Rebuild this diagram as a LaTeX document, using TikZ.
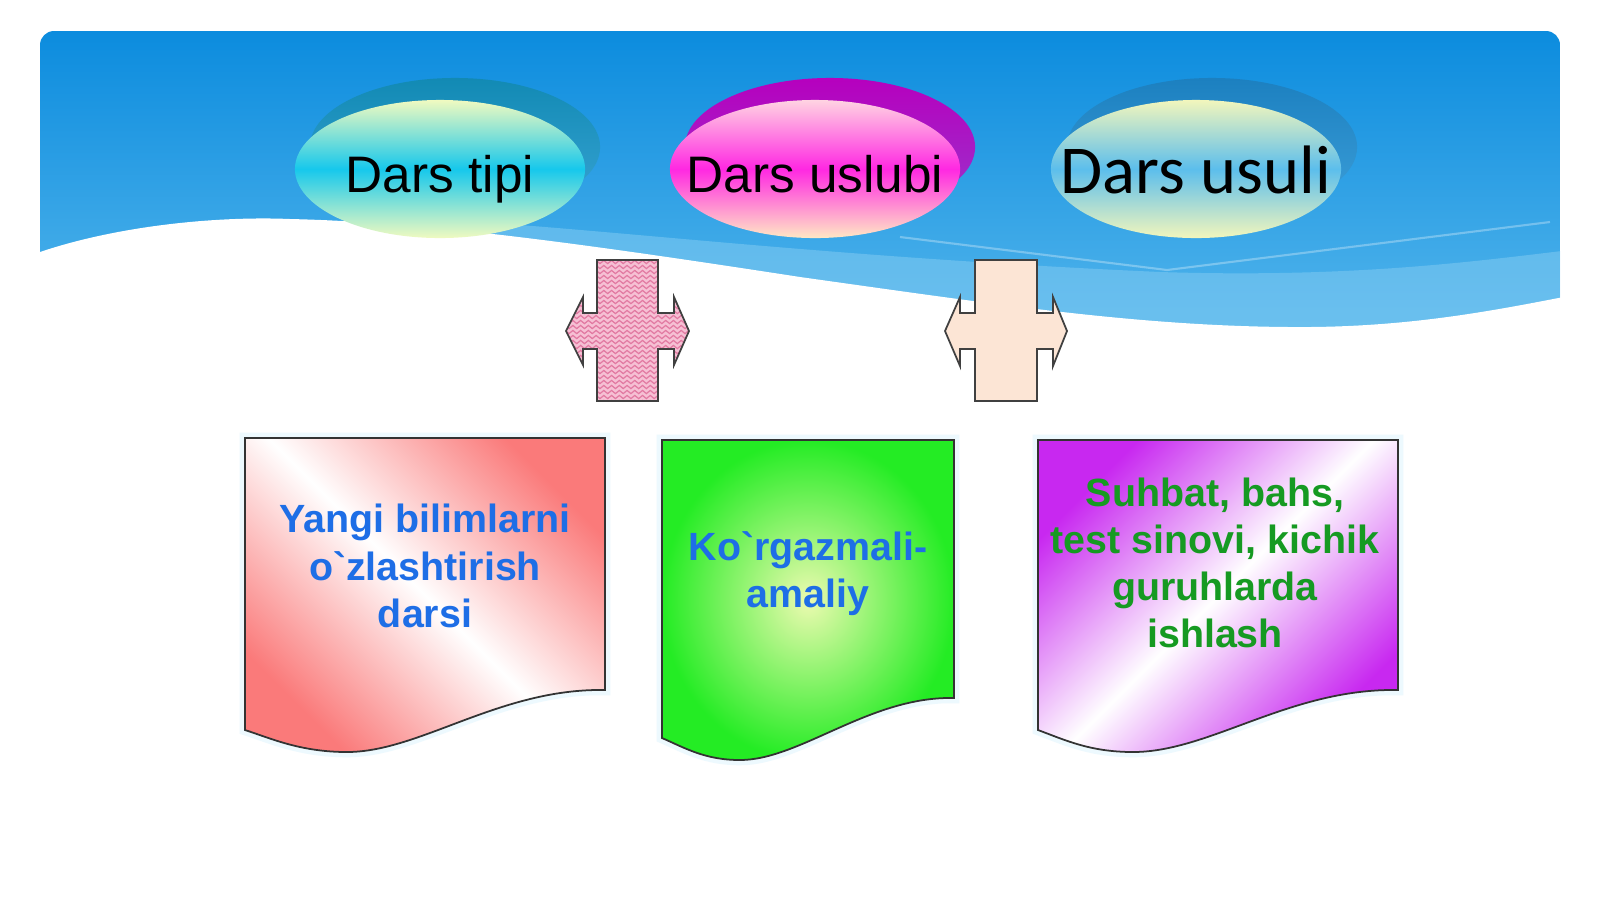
\documentclass[tikz,border=0pt]{standalone}
\usepackage{fontspec}
\setmainfont{Liberation Sans}
\newfontfamily\carlito{Carlito}
\usepackage{tikz}
\usetikzlibrary{shapes.geometric, positioning, backgrounds, calc, decorations.pathmorphing}

\definecolor{skytop}{RGB}{12,140,222}
\definecolor{skybot}{RGB}{84,182,236}
\definecolor{skyband}{RGB}{128,202,242}
\definecolor{tipimid}{RGB}{22,200,236}
\definecolor{tipiend}{RGB}{240,250,192}
\definecolor{tipishd}{RGB}{18,138,180}
\definecolor{uslmid}{RGB}{255,40,226}
\definecolor{usltop}{RGB}{255,212,226}
\definecolor{uslbot}{RGB}{255,232,196}
\definecolor{uslshd}{RGB}{182,0,190}
\definecolor{usumid}{RGB}{92,190,236}
\definecolor{usuend}{RGB}{242,246,188}
\definecolor{usushd}{RGB}{28,128,192}
\definecolor{txtblue}{RGB}{30,110,230}
\definecolor{txtgreen}{RGB}{22,154,34}
\definecolor{sheetpink}{RGB}{250,122,122}
\definecolor{sheetgreen}{RGB}{36,236,36}
\definecolor{greencore}{RGB}{236,250,176}
\definecolor{sheetviolet}{RGB}{200,40,240}
\definecolor{crosspink}{RGB}{246,192,212}
\definecolor{crosswave}{RGB}{226,122,162}
\definecolor{crosspeach}{RGB}{252,229,213}

\tikzset{%
	oval/.style={ellipse, minimum width=2.9cm, minimum height=1.38cm, inner sep=0mm},
	ovaltext/.style={anchor=base, inner sep=0mm, font=\fontsize{14.6}{17}\selectfont},
	sheet/.style={draw=black!80, line width=0.5pt, preaction={draw=cyan!7, line width=3pt}},
	sheettext/.style={align=center, inner sep=0mm, font=\fontsize{11.2}{13.4}\selectfont\bfseries},
	twoway/.style={draw=black!75, line width=0.5pt},
	ripple/.style={crosswave, line width=0.35pt, decorate,%
		decoration={snake, amplitude=0.45pt, segment length=2.2pt}}
}

\begin{document}
\begin{tikzpicture}[x=0.01cm, y=-0.01cm]
	\useasboundingbox (0,0) rectangle (1600,899);
	% ovals with their shadows
	\node[oval, top color=tipishd, bottom color=tipishd!40!skybot] (tipi-s) at (455,147) {};
	\node[oval, top color=uslshd, bottom color=uslshd!70!skybot] (uslubi-s) at (830,147) {};
	\node[oval, top color=usushd, bottom color=usushd!40!skybot] (usuli-s) at (1212,147) {};
	\node[oval, top color=tipiend, bottom color=tipiend, middle color=tipimid] (tipi) at (440,169) {};
	\node[oval, top color=usltop, bottom color=uslbot, middle color=uslmid] (uslubi) at (815,169) {};
	\node[oval, top color=usuend, bottom color=usuend, middle color=usumid] (usuli) at (1196,169) {};
	\node[ovaltext] (tipi-t) at ($(tipi.center)+(0,23)$) {Dars tipi};
	\node[ovaltext] (uslubi-t) at ($(uslubi.center)+(0,23)$) {Dars uslubi};
	\node[ovaltext, font=\carlito\fontsize{19.5}{23}\selectfont] (usuli-t) at ($(usuli.center)+(0,24)$) {Dars usuli};

	% two-way arrows
	\filldraw[twoway, fill=crosspink, path picture={%
		\foreach \y in {262,267,...,402} \draw[ripple] (555,\y) -- (700,\y);}]
		(597,260) -- (658,260) -- (658,313) -- (674,313) -- (674,297) -- (689,331)
		-- (674,365) -- (674,349) -- (658,349) -- (658,401) -- (597,401) -- (597,349)
		-- (583,349) -- (583,365) -- (566,331) -- (583,297) -- (583,313) -- (597,313) -- cycle;
	\filldraw[twoway, fill=crosspeach]
		(975,260) -- (1037,260) -- (1037,313) -- (1053,313) -- (1053,297) -- (1067,331)
		-- (1053,366) -- (1053,349) -- (1037,349) -- (1037,401) -- (975,401) -- (975,349)
		-- (960,349) -- (960,366) -- (945,331) -- (960,297) -- (960,313) -- (975,313) -- cycle;

	% sheets
	\shadedraw[sheet, top color=sheetpink, bottom color=sheetpink, middle color=white, shading angle=-45]
		(245,438) -- (605,438) -- (605,690) .. controls (500,688) and (420,752) .. (347,752)
		.. controls (300,752) and (270,738) .. (245,730) -- cycle;
	\shadedraw[sheet, inner color=greencore, outer color=sheetgreen]
		(662,440) -- (954,440) -- (954,698) .. controls (870,696) and (800,760) .. (740,760)
		.. controls (705,760) and (685,748) .. (662,738) -- cycle;
	\shadedraw[sheet, top color=sheetviolet, bottom color=sheetviolet, middle color=white, shading angle=45]
		(1038,440) -- (1398,440) -- (1398,690) .. controls (1290,688) and (1210,752) .. (1133,752)
		.. controls (1090,752) and (1065,740) .. (1038,730) -- cycle;
	\node[sheettext, text=txtblue] (tipi-x) at (425,566) {Yangi bilimlarni\\o\textasciigrave zlashtirish\\darsi};
	\node[sheettext, text=txtblue] (uslubi-x) at (808,574) {Ko\textasciigrave rgazmali-\\amaliy};
	\node[sheettext, text=txtgreen] (usuli-x) at (1215,563) {Suhbat, bahs,\\test sinovi, kichik\\guruhlarda\\ishlash};

	\begin{scope}[on background layer]
		\fill[white] (0,0) rectangle (1600,899);
		\begin{scope}
			\clip[rounded corners=0.14cm] (40,31) rectangle (1560,360);
			\shade[top color=skytop, bottom color=skybot] (40,31) rectangle (1560,340);
			\fill[skyband, opacity=0.55] (480,222) .. controls (650,234) and (850,258) .. (1160,272)
				.. controls (1350,278) and (1470,262) .. (1570,250) -- (1570,350) -- (480,350) -- cycle;
			\draw[white, opacity=0.3, line width=0.6pt] (900,237) -- (1167,270) -- (1550,222);
		\end{scope}
		\fill[white] (0,252) -- (40,252) .. controls (120,225) and (220,216) .. (290,219)
			.. controls (420,222) and (560,240) .. (800,277)
			.. controls (1000,305) and (1150,328) .. (1310,327)
			.. controls (1430,326) and (1520,305) .. (1600,290) -- (1600,370) -- (0,370) -- cycle;
	\end{scope}
\end{tikzpicture}
\end{document}
